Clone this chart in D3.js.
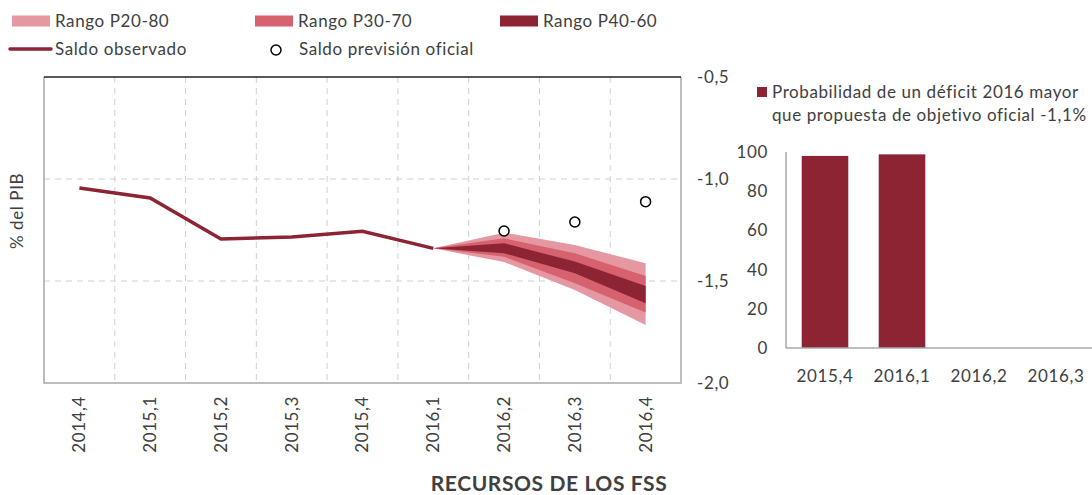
<!DOCTYPE html>
<html>
<head>
<meta charset="utf-8">
<script src="https://cdn.jsdelivr.net/npm/d3@7"></script>
<style>
  body { margin: 0; background: #fff; }
  svg { font-family: Lato, "Open Sans", sans-serif; }
  svg text { letter-spacing: 0.6px; }
</style>
</head>
<body>
<svg id="chart" width="1092" height="495"></svg>
<script>
// categories
const quarters = ["2014,4", "2015,1", "2015,2", "2015,3", "2015,4", "2016,1", "2016,2", "2016,3", "2016,4"];
const observed = [-1.044, -1.093, -1.294, -1.284, -1.256, -1.34];
const fanQuarters = ["2016,1", "2016,2", "2016,3", "2016,4"];
const p20 = [-1.34, -1.407, -1.544, -1.716];
const p30 = [-1.34, -1.381, -1.511, -1.655];
const p40 = [-1.34, -1.364, -1.462, -1.609];
const p60 = [-1.34, -1.315, -1.405, -1.525];
const p70 = [-1.34, -1.291, -1.364, -1.475];
const p80 = [-1.34, -1.263, -1.324, -1.413];
const officialQuarters = ["2016,2", "2016,3", "2016,4"];
const official = [-1.255, -1.211, -1.111];
const yTicks = [-0.5, -1.0, -1.5, -2.0];

const barCats = ["2015,4", "2016,1", "2016,2", "2016,3"];
const barVals = [98, 98.8, 0, 0];
const barTicks = [0, 20, 40, 60, 80, 100];

const C_LIGHT = "#e598a1", C_MID = "#d6616f", C_DARK = "#8c2434";
const TXT = "#404040";
const fmt = v => d3.format(".1f")(v).replace(".", ",").replace("−", "-");

const svg = d3.select("#chart");

// ---- left chart
const x = d3.scaleBand().domain(quarters).range([44, 681]);
const cx = q => x(q) + x.bandwidth() / 2;
const y = d3.scaleLinear().domain([-2, -0.5]).range([383, 77]);

const grid = svg.append("g").attr("stroke", "#d0d0d0").attr("stroke-dasharray", "6,5");
quarters.slice(1).forEach(q => {
  grid.append("line").attr("x1", x(q)).attr("x2", x(q)).attr("y1", 77).attr("y2", 383);
});
yTicks.slice(1, 3).forEach(t => {
  grid.append("line").attr("x1", 44).attr("x2", 681).attr("y1", y(t)).attr("y2", y(t));
});

// frame
svg.append("path").attr("d", `M44,77V383H681V77`).attr("fill", "none").attr("stroke", "#a8a8a8").attr("stroke-width", 1.5);
svg.append("line").attr("x1", 44).attr("x2", 681).attr("y1", 77).attr("y2", 77).attr("stroke", "#222").attr("stroke-width", 1.5);

// fan
const area = (lo, hi) => d3.area()
  .x((d, i) => cx(fanQuarters[i]))
  .y0((d, i) => y(lo[i]))
  .y1((d, i) => y(hi[i]))(fanQuarters);
svg.append("path").attr("d", area(p20, p80)).attr("fill", C_LIGHT);
svg.append("path").attr("d", area(p30, p70)).attr("fill", C_MID);
svg.append("path").attr("d", area(p40, p60)).attr("fill", C_DARK);

// observed line
const line = d3.line().x((d, i) => cx(quarters[i])).y(d => y(d));
svg.append("path").attr("d", line(observed)).attr("fill", "none").attr("stroke", C_DARK).attr("stroke-width", 3.5);

// official circles
svg.append("g").selectAll("circle").data(official).join("circle")
  .attr("cx", (d, i) => cx(officialQuarters[i])).attr("cy", d => y(d)).attr("r", 5)
  .attr("fill", "#fff").attr("stroke", "#000").attr("stroke-width", 1.5);

// right axis labels
svg.append("g").selectAll("text").data(yTicks).join("text")
  .attr("x", 697).attr("y", d => y(d)).attr("dy", "0.35em")
  .attr("fill", TXT).attr("font-size", 17).text(fmt);

// x labels
svg.append("g").selectAll("text").data(quarters).join("text")
  .attr("transform", d => `translate(${cx(d)},396) rotate(-90)`)
  .attr("text-anchor", "end").attr("dy", "0.35em")
  .attr("fill", TXT).attr("font-size", 17).text(d => d);

svg.append("text").attr("transform", "translate(17,211) rotate(-90)")
  .attr("text-anchor", "middle").attr("dy", "0.35em").attr("fill", TXT).attr("font-size", 17).text("% del PIB");

svg.append("text").attr("x", 549).attr("y", 491).attr("text-anchor", "middle")
  .attr("font-weight", "bold").attr("font-size", 21).attr("letter-spacing", 2.6).attr("fill", TXT).text("RECURSOS DE LOS FSS");

// legend
const leg = [
  { t: "Rango P20-80", c: C_LIGHT, x: 12, y: 21, k: "rect" },
  { t: "Rango P30-70", c: C_MID, x: 255, y: 21, k: "rect" },
  { t: "Rango P40-60", c: C_DARK, x: 500, y: 21, k: "rect" },
  { t: "Saldo observado", c: C_DARK, x: 10, y: 49, k: "line" },
  { t: "Saldo previsión oficial", c: "#000", x: 255, y: 49, k: "circle" }
];
leg.forEach(l => {
  if (l.k === "rect") svg.append("rect").attr("x", l.x).attr("y", l.y - 5.5).attr("width", 38).attr("height", 11).attr("fill", l.c);
  else if (l.k === "line") svg.append("line").attr("x1", l.x).attr("x2", l.x + 41).attr("y1", l.y).attr("y2", l.y).attr("stroke", l.c).attr("stroke-width", 3.5).attr("stroke-linecap", "round");
  else svg.append("circle").attr("cx", 276).attr("cy", l.y + 1).attr("r", 5).attr("fill", "#fff").attr("stroke", "#000").attr("stroke-width", 1.5);
  svg.append("text").attr("x", l.x + (l.k === "circle" ? 44 : l.k === "line" ? 45 : 43)).attr("y", l.y).attr("dy", "0.35em")
    .attr("fill", TXT).attr("font-size", 17).text(l.t);
});

// ---- right bar chart
const xb = d3.scaleBand().domain(barCats).range([786, 1095]).paddingInner(0.395).paddingOuter(0.204);
const yb = d3.scaleLinear().domain([0, 100]).range([348, 152]);

svg.append("g").selectAll("rect").data(barVals).join("rect")
  .attr("x", (d, i) => xb(barCats[i])).attr("width", xb.bandwidth())
  .attr("y", d => yb(d)).attr("height", d => yb(0) - yb(d)).attr("fill", C_DARK);

svg.append("line").attr("x1", 786).attr("x2", 786).attr("y1", yb(100)).attr("y2", yb(0)).attr("stroke", "#a8a8a8").attr("stroke-width", 1.5);
svg.append("line").attr("x1", 786).attr("x2", 1092).attr("y1", yb(0)).attr("y2", yb(0)).attr("stroke", "#a8a8a8").attr("stroke-width", 1.5);

svg.append("g").selectAll("text").data(barTicks).join("text")
  .attr("x", 768).attr("y", d => yb(d)).attr("dy", "0.35em").attr("text-anchor", "end")
  .attr("fill", TXT).attr("font-size", 17).text(d => d);

svg.append("g").selectAll("text").data(barCats).join("text")
  .attr("x", d => xb(d) + xb.bandwidth() / 2).attr("y", 376).attr("dy", "0.35em").attr("text-anchor", "middle")
  .attr("fill", TXT).attr("font-size", 17).text(d => d);

svg.append("rect").attr("x", 757).attr("y", 87).attr("width", 10).attr("height", 10).attr("fill", C_DARK);
svg.append("text").attr("x", 772).attr("y", 92).attr("dy", "0.35em").attr("fill", TXT).attr("font-size", 17)
  .text("Probabilidad de un déficit 2016 mayor");
svg.append("text").attr("x", 772).attr("y", 115).attr("dy", "0.35em").attr("fill", TXT).attr("font-size", 17)
  .text("que propuesta de objetivo oficial -1,1%");
</script>
</body>
</html>
